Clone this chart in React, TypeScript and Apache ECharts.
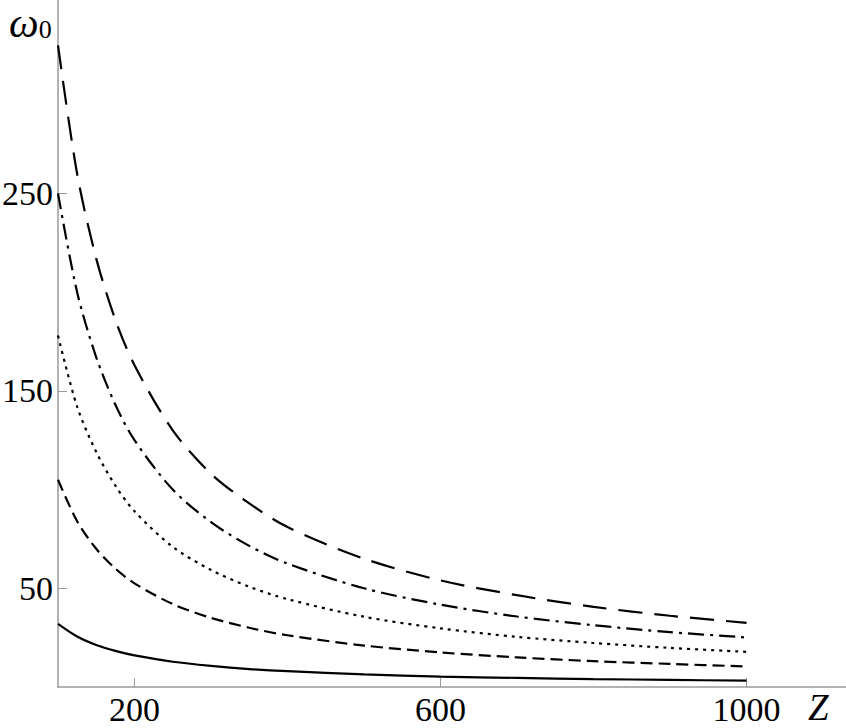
import React, { useEffect, useRef } from "react";
import * as echarts from "echarts";

const zValues = [100, 125, 150, 175, 200, 250, 300, 350, 400, 500, 600, 700, 800, 900, 1000];
const longDash = [325, 260, 217, 186, 163, 130, 108, 93, 81, 65, 54, 46.5, 40.6, 36.1, 32.5];
const dashDot = [250, 200, 167, 143, 125, 100, 83.5, 71.5, 62.5, 50, 41.7, 35.7, 31.3, 27.8, 25.1];
const dotted = [178, 142, 119, 102, 89, 71, 59.3, 50.8, 44.5, 35.6, 29.7, 25.4, 22.3, 19.8, 17.8];
const dashed = [105, 84, 70, 60, 52.5, 42, 35, 30, 26.2, 21, 17.5, 15, 13.1, 11.7, 10.4];
const solid = [32, 25.6, 21.3, 18.3, 16, 12.8, 10.7, 9.1, 8, 6.4, 5.3, 4.6, 4, 3.6, 3.2];

const xTicks = [200, 600, 1000];
const yTicks = [50, 150, 250];

const FONT = "'Liberation Serif', 'DejaVu Serif', serif";

export default function App() {
  const ref = useRef<HTMLDivElement>(null);
  useEffect(() => {
    if (!ref.current) return;
    const chart = echarts.init(ref.current, undefined, { renderer: "svg" });
    const mk = (vals: number[], type: any) => ({
      type: "line",
      data: zValues.map((z, i) => [z, vals[i]]),
      showSymbol: false,
      smooth: 0.3,
      lineStyle: { color: "#000", width: 2.2, type, cap: "butt" },
    });
    chart.setOption({
      animation: false,
      backgroundColor: "#fff",
      grid: { left: 58, right: 0, top: 0, bottom: 41, containLabel: false, outerBoundsMode: "none" },
      xAxis: {
        type: "value",
        min: 100,
        max: 1130,
        axisLine: { show: true, lineStyle: { color: "#9a9a9a", width: 1.5 } },
        axisTick: { show: true, inside: true, length: 9, customValues: xTicks, lineStyle: { color: "#9a9a9a", width: 1 } },
        axisLabel: {
          customValues: xTicks,
          formatter: (v: number) => String(v),
          fontFamily: FONT,
          fontSize: 34,
          lineHeight: 34,
          color: "#000",
          margin: 5,
        },
        splitLine: { show: false },
      },
      yAxis: {
        type: "value",
        min: 0,
        max: 348,
        axisLine: { show: true, lineStyle: { color: "#9a9a9a", width: 1.5 } },
        axisTick: { show: true, inside: true, length: 9, customValues: yTicks, lineStyle: { color: "#9a9a9a", width: 1 } },
        axisLabel: {
          customValues: yTicks,
          formatter: (v: number) => String(v),
          fontFamily: FONT,
          fontSize: 34,
          color: "#000",
          margin: 5,
        },
        splitLine: { show: false },
      },
      graphic: [
        {
          type: "text",
          left: 9,
          top: 2,
          style: {
            text: "{w|ω}{s|0}",
            rich: {
              w: { fontFamily: FONT, fontStyle: "italic", fontSize: 42, lineHeight: 38, fill: "#000" },
              s: { fontFamily: FONT, fontSize: 26, lineHeight: 26, fill: "#000", padding: [12, 0, 0, 0] },
            },
          },
        },
        {
          type: "text",
          left: 808,
          top: 689,
          style: { text: "Z", fontFamily: FONT, fontStyle: "italic", fontSize: 37, lineHeight: 34, fill: "#000" },
        },
      ],
      series: [
        mk(longDash, [24, 12]),
        mk(dashDot, [16, 6, 3, 6]),
        mk(dotted, [3, 5]),
        mk(dashed, [12, 6]),
        mk(solid, "solid"),
      ],
    });
    return () => chart.dispose();
  }, []);
  return (
    <div
      ref={ref}
      style={{ position: "fixed", left: 0, top: 0, width: 846, height: 728, background: "#fff" }}
    />
  );
}
